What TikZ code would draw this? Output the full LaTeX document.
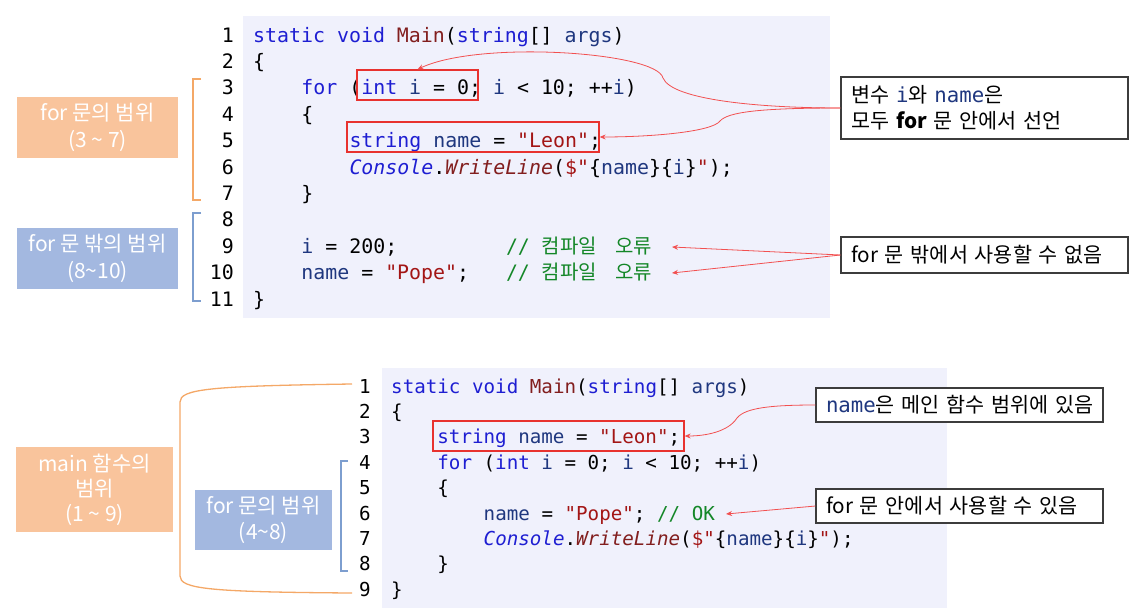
\documentclass[tikz,border=0pt]{standalone}
\usepackage{fontspec}
\usetikzlibrary{arrows.meta}
\setmainfont{Noto Sans CJK KR}
\newfontfamily\codefont{DejaVu Sans Mono}[ItalicFont={DejaVu Sans Mono Oblique}]
\newfontfamily\krfont{Noto Sans CJK KR}
\definecolor{codebg}{RGB}{240,241,252}
\definecolor{kwc}{RGB}{30,30,210}
\definecolor{idc}{RGB}{31,55,127}
\definecolor{strc}{RGB}{163,21,21}
\definecolor{mtc}{RGB}{130,30,30}
\definecolor{cmc}{RGB}{20,135,40}
\definecolor{boxred}{RGB}{232,50,47}
\definecolor{arrred}{RGB}{242,80,80}
\definecolor{lborange}{RGB}{249,196,156}
\definecolor{lbblue}{RGB}{163,184,224}
\definecolor{brorange}{RGB}{244,168,103}
\definecolor{brblue}{RGB}{125,158,207}
\definecolor{calline}{RGB}{60,60,60}
\newcommand\cKw[1]{\textcolor{kwc}{#1}}
\newcommand\cId[1]{\textcolor{idc}{#1}}
\newcommand\cStr[1]{\textcolor{strc}{#1}}
\newcommand\cMt[1]{\textcolor{mtc}{#1}}
\newcommand\cCm[1]{\textcolor{cmc}{#1}}
\tikzset{
  codeA/.style={anchor=base west, inner sep=0pt, font=\codefont\fontsize{19.9}{24}\selectfont},
  codeB/.style={anchor=base west, inner sep=0pt, font=\codefont\fontsize{19.2}{24}\selectfont},
  numA/.style={anchor=base east, inner sep=0pt, font=\codefont\fontsize{19.9}{24}\selectfont},
  numB/.style={anchor=base east, inner sep=0pt, font=\codefont\fontsize{19.2}{24}\selectfont},
  redbox/.style={draw=boxred, line width=1.3pt, inner sep=0pt},
  callout/.style={draw=calline, fill=white, line width=1.1pt, align=left, inner xsep=10pt, inner ysep=0pt, font=\fontsize{20.7}{26}\selectfont},
  labelbox/.style={text=white, inner sep=0pt, align=center, font=\fontsize{21}{26.5}\selectfont},
  redarrow/.style={draw=arrred, line width=0.8pt, -{Stealth[length=6pt,width=5pt]}},
  bracketO/.style={draw=brorange, line width=1.3pt},
  bracketB/.style={draw=brblue, line width=1.3pt},
}
\begin{document}
\begin{tikzpicture}[x=1pt,y=-1pt]
\useasboundingbox (0,0) rectangle (1137,613);
% code backgrounds
\fill[codebg] (243,16) rectangle (830,318);
\fill[codebg] (382,368) rectangle (947,608);

% ---------- top code ----------
\foreach \i in {1,...,11} \node[numA] (na\i) at (234,{42+(\i-1)*26.4}) {\i};
\node[codeA] (a1) at (253,42) {\cKw{static void} \cMt{Main}(\cKw{string}[] \cId{args})};
\node[codeA] (a2) at (253,68.4) {\{};
\node[codeA] (a3) at (301.2,94.8) {\cKw{for} (\cKw{int} \cId{i} = 0; \cId{i} < 10; ++\cId{i})};
\node[codeA] (a4) at (301.2,121.2) {\{};
\node[codeA] (a5) at (349.3,147.6) {\cKw{string} \cId{name} = \cStr{"Leon"};};
\node[codeA] (a6) at (349.3,174) {\cKw{\itshape Console}.\cMt{\itshape WriteLine}(\cStr{\$"}\{\cId{name}\}\{\cId{i}\}\cStr{"});};
\node[codeA] (a7) at (301.2,200.4) {\}};
\node[codeA] (a9) at (301.2,253.2) {\cId{i} = 200;};
\node[codeA] (k9) at (505.8,253.2) {\cCm{// {\krfont\fontsize{20}{24}\selectfont 컴파일\hspace{18pt}오류}}};
\node[codeA] (a10) at (301.2,279.6) {\cId{name} = \cStr{"Pope"};};
\node[codeA] (k10) at (505.8,279.6) {\cCm{// {\krfont\fontsize{20}{24}\selectfont 컴파일\hspace{18pt}오류}}};
\node[codeA] (a11) at (253,306) {\}};

% red boxes top
\node[redbox, minimum width=121pt, minimum height=30pt] (r1) at (417.5,85) {};
\node[redbox, minimum width=252pt, minimum height=30pt] (r2) at (473,137) {};

% left labels top
\node[labelbox, fill=lborange, minimum width=161pt, minimum height=61pt] (l1) at (97.5,127.5) {for 문의 범위\\(3 \textasciitilde{} 7)};
\node[labelbox, fill=lbblue, minimum width=161pt, minimum height=61pt] (l2) at (97.5,258.5) {for 문 밖의 범위\\(8\textasciitilde{}10)};
\draw[bracketO] (201,79) -- (193,79) -- (193,200) -- (201,200);
\draw[bracketB] (201,213) -- (193,213) -- (193,301) -- (201,301);

% callouts top
\node[callout, text width=267pt, minimum height=62pt] (c1) at (984.5,108)
  {변수 {\codefont\color{idc}i}와 {\codefont\color{idc}name}은\\모두 \textbf{for} 문 안에서 선언};
\node[callout, text width=267pt, minimum height=36pt] (c2) at (984.5,255)
  {\mbox{for 문 밖에서 사용할 수 없음}};
\coordinate (t9) at (672,247);
\coordinate (t10) at (672,273);

\draw[redarrow] (c1.west) .. controls (760,108) and (672,100) .. (663,78)
  .. controls (657,52) and (480,40) .. (r1.north);
\draw[redarrow] (c1.west) .. controls (760,108) and (728,112) .. (720,121)
  .. controls (712,132) and (650,137) .. (r2.east);
\draw[redarrow] (c2.west) -- (t9);
\draw[redarrow] (c2.west) -- (t10);

% ---------- bottom code ----------
\foreach \i in {1,...,9} \node[numB] (nb\i) at (371,{393+(\i-1)*25.4}) {\i};
\node[codeB] (b1) at (391,393) {\cKw{static void} \cMt{Main}(\cKw{string}[] \cId{args})};
\node[codeB] (b2) at (391,418.4) {\{};
\node[codeB] (b3) at (437.2,443.8) {\cKw{string} \cId{name} = \cStr{"Leon"};};
\node[codeB] (b4) at (437.2,469.2) {\cKw{for} (\cKw{int} \cId{i} = 0; \cId{i} < 10; ++\cId{i})};
\node[codeB] (b5) at (437.2,494.6) {\{};
\node[codeB] (b6) at (483.5,520) {\cId{name} = \cStr{"Pope"}; \cCm{// OK}};
\node[codeB] (b7) at (483.5,545.4) {\cKw{\itshape Console}.\cMt{\itshape WriteLine}(\cStr{\$"}\{\cId{name}\}\{\cId{i}\}\cStr{"});};
\node[codeB] (b8) at (437.2,570.8) {\}};
\node[codeB] (b9) at (391,596.2) {\}};

\node[redbox, minimum width=251pt, minimum height=30pt] (r3) at (558.5,436) {};

% left labels bottom
\node[labelbox, fill=lborange, minimum width=157pt, minimum height=85pt, font=\fontsize{21}{25}\selectfont] (l3) at (94.5,489.5) {main 함수의\\범위\\(1 \textasciitilde{} 9)};
\node[labelbox, fill=lbblue, minimum width=137pt, minimum height=60pt] (l4) at (263.5,520) {for 문의 범위\\(4\textasciitilde{}8)};
\draw[bracketO] (352,384) .. controls (210,386) and (180,389) .. (180,402) -- (180,576)
  .. controls (180,589) and (210,592) .. (352,593);
\draw[bracketB] (348,461) -- (341,461) -- (341,571) -- (348,571);

% callouts bottom
\node[callout, text width=267pt, minimum height=34pt] (c3) at (959.5,405)
  {\mbox{{\codefont\color{idc}name}은 메인 함수 범위에 있음}};
\node[callout, text width=267pt, minimum height=34pt] (c4) at (959.5,506)
  {\mbox{for 문 안에서 사용할 수 있음}};
\coordinate (t6) at (726,514);
\draw[redarrow] (c3.west) .. controls (770,405) and (745,408) .. (737,418)
  .. controls (728,432) and (705,436) .. (r3.east);
\draw[redarrow] (c4.west) -- (t6);
\end{tikzpicture}
\end{document}
